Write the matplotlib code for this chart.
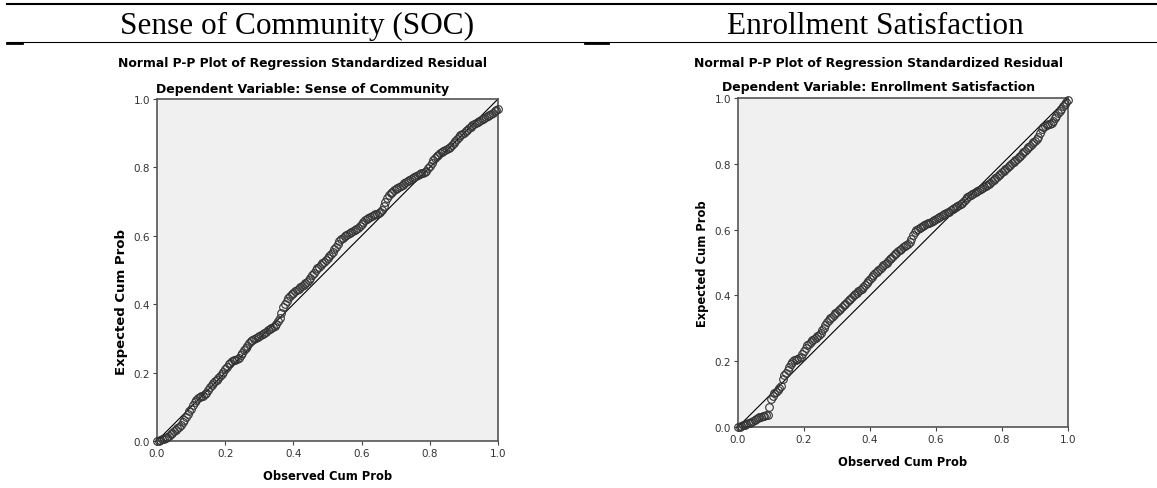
import matplotlib
matplotlib.use("Agg")
import matplotlib.pyplot as plt
from matplotlib.lines import Line2D

W, H = 1157, 489

# observed cumulative probability (same grid for both plots)
observed = [
    0.000, 0.005, 0.010, 0.015, 0.020, 0.025, 0.030, 0.035, 0.040, 0.045,
    0.050, 0.055, 0.060, 0.065, 0.070, 0.075, 0.080, 0.085, 0.090, 0.095,
    0.100, 0.105, 0.110, 0.115, 0.120, 0.125, 0.130, 0.135, 0.140, 0.145,
    0.150, 0.155, 0.160, 0.165, 0.170, 0.175, 0.180, 0.185, 0.190, 0.195,
    0.200, 0.205, 0.210, 0.215, 0.220, 0.225, 0.230, 0.235, 0.240, 0.245,
    0.250, 0.255, 0.260, 0.265, 0.270, 0.275, 0.280, 0.285, 0.290, 0.295,
    0.300, 0.305, 0.310, 0.315, 0.320, 0.325, 0.330, 0.335, 0.340, 0.345,
    0.350, 0.355, 0.360, 0.365, 0.370, 0.375, 0.380, 0.385, 0.390, 0.395,
    0.400, 0.405, 0.410, 0.415, 0.420, 0.425, 0.430, 0.435, 0.440, 0.445,
    0.450, 0.455, 0.460, 0.465, 0.470, 0.475, 0.480, 0.485, 0.490, 0.495,
    0.500, 0.505, 0.510, 0.515, 0.520, 0.525, 0.530, 0.535, 0.540, 0.545,
    0.550, 0.555, 0.560, 0.565, 0.570, 0.575, 0.580, 0.585, 0.590, 0.595,
    0.600, 0.605, 0.610, 0.615, 0.620, 0.625, 0.630, 0.635, 0.640, 0.645,
    0.650, 0.655, 0.660, 0.665, 0.670, 0.675, 0.680, 0.685, 0.690, 0.695,
    0.700, 0.705, 0.710, 0.715, 0.720, 0.725, 0.730, 0.735, 0.740, 0.745,
    0.750, 0.755, 0.760, 0.765, 0.770, 0.775, 0.780, 0.785, 0.790, 0.795,
    0.800, 0.805, 0.810, 0.815, 0.820, 0.825, 0.830, 0.835, 0.840, 0.845,
    0.850, 0.855, 0.860, 0.865, 0.870, 0.875, 0.880, 0.885, 0.890, 0.895,
    0.900, 0.905, 0.910, 0.915, 0.920, 0.925, 0.930, 0.935, 0.940, 0.945,
    0.950, 0.955, 0.960, 0.965, 0.970, 0.975, 0.980, 0.985, 0.990, 0.995,
    1.000,
]

# expected cumulative probability, Sense of Community
expected_soc = [
    0.000, 0.001, 0.003, 0.005, 0.007, 0.010, 0.013, 0.016, 0.020, 0.024,
    0.028, 0.032, 0.037, 0.042, 0.048, 0.055, 0.062, 0.070, 0.078, 0.087,
    0.095, 0.104, 0.113, 0.121, 0.126, 0.129, 0.131, 0.133, 0.136, 0.141,
    0.148, 0.157, 0.165, 0.170, 0.174, 0.178, 0.183, 0.189, 0.196, 0.203,
    0.210, 0.217, 0.224, 0.229, 0.233, 0.236, 0.238, 0.240, 0.244, 0.251,
    0.258, 0.265, 0.272, 0.279, 0.286, 0.291, 0.294, 0.297, 0.300, 0.304,
    0.307, 0.310, 0.313, 0.317, 0.320, 0.324, 0.327, 0.330, 0.333, 0.337,
    0.342, 0.350, 0.360, 0.375, 0.392, 0.402, 0.410, 0.418, 0.424, 0.430,
    0.434, 0.438, 0.441, 0.445, 0.449, 0.453, 0.457, 0.461, 0.466, 0.472,
    0.478, 0.485, 0.492, 0.499, 0.505, 0.510, 0.515, 0.520, 0.524, 0.529,
    0.535, 0.541, 0.547, 0.553, 0.560, 0.568, 0.576, 0.584, 0.590, 0.595,
    0.598, 0.602, 0.605, 0.609, 0.612, 0.615, 0.618, 0.620, 0.623, 0.628,
    0.634, 0.640, 0.646, 0.650, 0.653, 0.656, 0.658, 0.660, 0.663, 0.665,
    0.668, 0.671, 0.676, 0.686, 0.699, 0.710, 0.719, 0.725, 0.729, 0.733,
    0.737, 0.741, 0.744, 0.747, 0.750, 0.753, 0.756, 0.760, 0.763, 0.767,
    0.770, 0.773, 0.775, 0.778, 0.780, 0.783, 0.785, 0.787, 0.790, 0.797,
    0.805, 0.814, 0.822, 0.828, 0.833, 0.837, 0.841, 0.845, 0.848, 0.852,
    0.855, 0.858, 0.861, 0.865, 0.870, 0.876, 0.883, 0.889, 0.894, 0.898,
    0.902, 0.906, 0.910, 0.915, 0.919, 0.923, 0.926, 0.930, 0.933, 0.936,
    0.939, 0.942, 0.944, 0.947, 0.950, 0.953, 0.957, 0.960, 0.964, 0.967,
    0.971,
]

# expected cumulative probability, Enrollment Satisfaction
expected_es = [
    0.000, 0.001, 0.003, 0.005, 0.007, 0.009, 0.011, 0.013, 0.016, 0.019,
    0.022, 0.025, 0.027, 0.029, 0.031, 0.033, 0.034, 0.036, 0.037, 0.060,
    0.085, 0.095, 0.102, 0.107, 0.112, 0.118, 0.125, 0.145, 0.158, 0.165,
    0.172, 0.181, 0.190, 0.197, 0.203, 0.205, 0.207, 0.210, 0.214, 0.223,
    0.232, 0.240, 0.248, 0.253, 0.258, 0.263, 0.268, 0.272, 0.276, 0.281,
    0.286, 0.294, 0.302, 0.311, 0.319, 0.325, 0.330, 0.335, 0.340, 0.345,
    0.349, 0.355, 0.360, 0.365, 0.370, 0.375, 0.380, 0.385, 0.390, 0.395,
    0.400, 0.404, 0.408, 0.412, 0.416, 0.420, 0.425, 0.431, 0.437, 0.444,
    0.450, 0.456, 0.461, 0.467, 0.472, 0.477, 0.481, 0.486, 0.491, 0.496,
    0.500, 0.505, 0.510, 0.515, 0.520, 0.525, 0.530, 0.534, 0.538, 0.542,
    0.546, 0.550, 0.553, 0.557, 0.561, 0.572, 0.585, 0.592, 0.598, 0.602,
    0.605, 0.608, 0.611, 0.614, 0.616, 0.619, 0.621, 0.624, 0.627, 0.629,
    0.631, 0.634, 0.637, 0.640, 0.643, 0.646, 0.649, 0.652, 0.655, 0.659,
    0.662, 0.665, 0.668, 0.671, 0.674, 0.677, 0.680, 0.686, 0.692, 0.698,
    0.703, 0.706, 0.709, 0.712, 0.715, 0.718, 0.721, 0.724, 0.727, 0.730,
    0.733, 0.736, 0.740, 0.743, 0.747, 0.751, 0.756, 0.760, 0.765, 0.770,
    0.775, 0.779, 0.784, 0.788, 0.793, 0.797, 0.802, 0.806, 0.811, 0.815,
    0.820, 0.825, 0.830, 0.835, 0.840, 0.845, 0.850, 0.855, 0.860, 0.865,
    0.870, 0.875, 0.880, 0.893, 0.905, 0.911, 0.916, 0.918, 0.920, 0.922,
    0.924, 0.931, 0.938, 0.946, 0.955, 0.962, 0.968, 0.975, 0.982, 0.988,
    0.995,
]

ticks = [0.0, 0.2, 0.4, 0.6, 0.8, 1.0]
tick_labels = ["0.0", "0.2", "0.4", "0.6", "0.8", "1.0"]

headers = ["Sense of Community (SOC)", "Enrollment Satisfaction"]
dep_vars = ["Sense of Community", "Enrollment Satisfaction"]

plt.rcParams["font.family"] = ["DejaVu Sans"]


def px(x0, y0, x1, y1):
    # pixel box (top-left origin) -> figure fraction rect
    return [x0 / W, 1 - y1 / H, (x1 - x0) / W, (y1 - y0) / H]


def pp_plot(ax, obs, exp, ylab_x, ylab_y, ylab_size):
    ax.set_facecolor("#f0f0f0")
    ax.plot([0, 1], [0, 1], color="black", lw=0.8, zorder=2)
    ax.plot(obs, exp, ls="none", marker="o", ms=5.5, mfc="none",
            mec="#333333", mew=0.8, zorder=3, clip_on=False)
    ax.set_xlim(0, 1)
    ax.set_ylim(0, 1)
    ax.set_xticks(ticks)
    ax.set_xticklabels(tick_labels)
    ax.set_yticks(ticks)
    ax.set_yticklabels(tick_labels)
    ax.tick_params(direction="out", length=3, width=0.8, colors="#444444",
                   labelsize=7.5, labelcolor="#333333", pad=2)
    for s in ax.spines.values():
        s.set_color("#555555")
        s.set_linewidth(1.2)
    ax.set_xlabel("Observed Cum Prob", fontsize=8.3, fontweight="bold",
                  labelpad=8)
    ax.set_ylabel("Expected Cum Prob", fontsize=ylab_size, fontweight="bold")
    ax.yaxis.set_label_coords(ylab_x, ylab_y)


fig = plt.figure(figsize=(W / 100, H / 100), dpi=100)

ax1 = fig.add_axes(px(157, 100, 498, 442))
pp_plot(ax1, observed, expected_soc, -0.085, 0.41, 9.5)
ax2 = fig.add_axes(px(738, 99, 1068, 428))
pp_plot(ax2, observed, expected_es, -0.088, 0.5, 8.3)

# chart titles
for cx, ty, sy, dv in [(303, 63, 89, dep_vars[0]), (879, 63, 88, dep_vars[1])]:
    fig.text(cx / W, 1 - ty / H,
             "Normal P-P Plot of Regression Standardized Residual",
             ha="center", va="center", fontsize=8.9, fontweight="bold")
    fig.text(cx / W, 1 - sy / H, "Dependent Variable: " + dv,
             ha="center", va="center", fontsize=9, fontweight="bold")

# document table header
fig.text(120 / W, 1 - 34 / H, headers[0], ha="left", va="baseline",
         fontsize=22.5, family="Liberation Serif")
fig.text(727 / W, 1 - 34 / H, headers[1], ha="left", va="baseline",
         fontsize=22.5, family="Liberation Serif")

fig.add_artist(Line2D([7 / W, 1], [1 - 4.5 / H] * 2, color="black", lw=1.5))
fig.add_artist(Line2D([7 / W, 1], [1 - 43 / H] * 2, color="black", lw=0.8))
fig.add_artist(Line2D([7 / W, 22 / W], [1 - 44 / H] * 2, color="black", lw=2))
fig.add_artist(Line2D([585 / W, 608 / W], [1 - 44 / H] * 2, color="black", lw=2))

fig.savefig("out.png", dpi=100)
